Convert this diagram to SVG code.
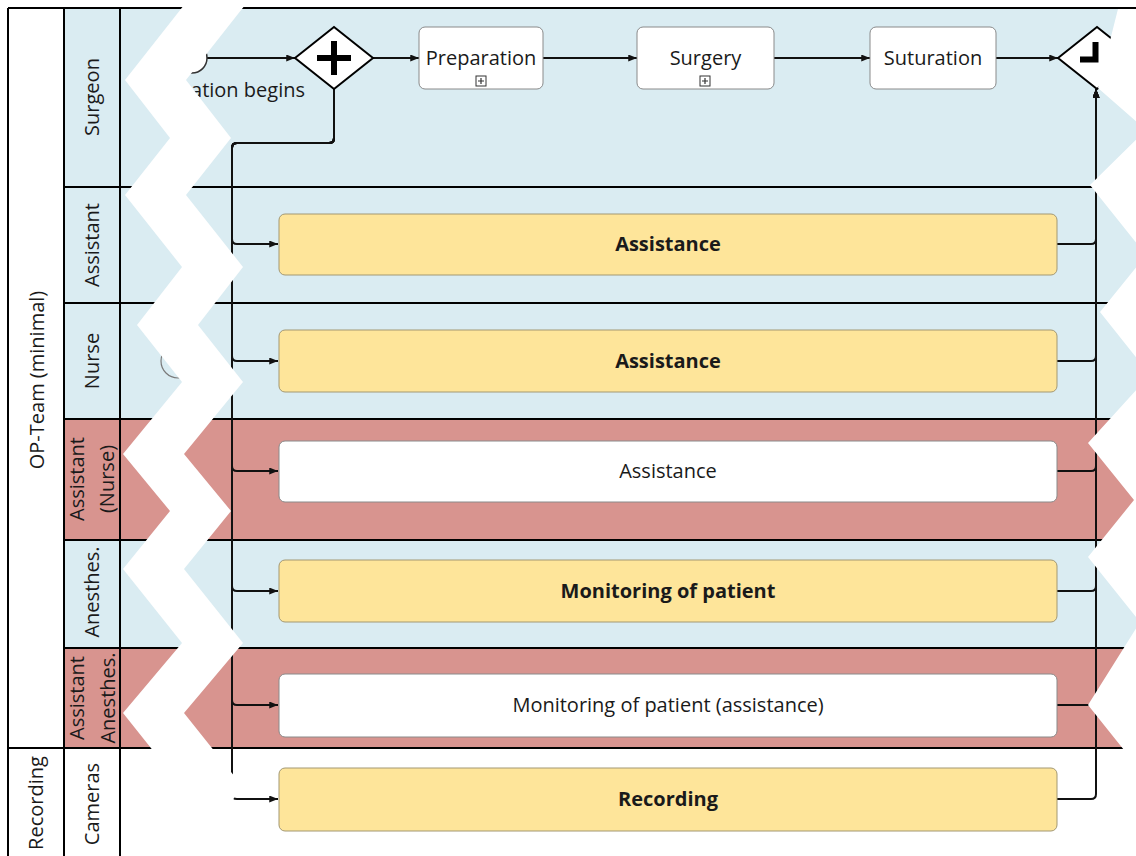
<svg xmlns="http://www.w3.org/2000/svg" width="1136" height="856" viewBox="0 0 1136 856">
  <style>
    text { font-family: "Open Sans", "DejaVu Sans", sans-serif; font-size: 20px; fill: #1a1a1a; }
    .b { font-weight: bold; }
    .mid { text-anchor: middle; }
    .lane-blue { fill: #daecf2; }
    .lane-red { fill: #d8948f; }
    .line { stroke: #000; stroke-width: 2; fill: none; }
    .flow { stroke: #111; stroke-width: 2; fill: none; }
    .task { fill: #fff; stroke: #8a8a8a; stroke-width: 1; }
    .task-y { fill: #fee59a; stroke: #a39873; stroke-width: 1; }
    .gw { fill: #fff; stroke: #000; stroke-width: 2; }
    .sym { fill: none; stroke: #000; stroke-width: 6; }
    .marker-box { fill: #fff; stroke: #333; stroke-width: 1; }
    .tear { fill: #fff; }
  </style>
  <defs>
    <marker id="arr" viewBox="0 0 10 8" refX="10" refY="4" markerWidth="9" markerHeight="7" markerUnits="userSpaceOnUse" orient="auto">
      <path d="M0,0 L10,4 L0,8 z" fill="#111"/>
    </marker>
  </defs>

  <!-- lane backgrounds -->
  <g id="lane-fills">
    <rect x="64" y="8" width="1072" height="411" class="lane-blue"/>
    <rect x="64" y="419" width="1072" height="121" class="lane-red"/>
    <rect x="64" y="540" width="1072" height="108" class="lane-blue"/>
    <rect x="64" y="648" width="1072" height="100" class="lane-red"/>
  </g>

  <!-- pool and lane borders -->
  <g id="borders" class="line">
    <path d="M8,8 V856 M64,8 V856 M120,8 V856"/>
    <path d="M8,8 H1136"/>
    <path d="M64,187 H1136 M64,303 H1136 M64,419 H1136 M64,540 H1136 M64,648 H1136"/>
    <path d="M8,748 H1136"/>
  </g>

  <!-- pool labels -->
  <g id="pool-op-team">
    <text class="mid" transform="translate(44,380) rotate(-90)">OP-Team (minimal)</text>
  </g>
  <g id="pool-recording">
    <text class="mid" transform="translate(43,803) rotate(-90)">Recording</text>
  </g>

  <!-- lane labels -->
  <g id="lane-surgeon"><text class="mid" transform="translate(99,97) rotate(-90)">Surgeon</text></g>
  <g id="lane-assistant"><text class="mid" transform="translate(99,245) rotate(-90)">Assistant</text></g>
  <g id="lane-nurse"><text class="mid" transform="translate(99,361) rotate(-90)">Nurse</text></g>
  <g id="lane-assistant-nurse">
    <text class="mid" transform="translate(84,479) rotate(-90)">Assistant</text>
    <text class="mid" transform="translate(114,479) rotate(-90)">(Nurse)</text>
  </g>
  <g id="lane-anesthes"><text class="mid" transform="translate(99,592) rotate(-90)">Anesthes.</text></g>
  <g id="lane-assistant-anesthes">
    <text class="mid" transform="translate(84,698) rotate(-90)">Assistant</text>
    <text class="mid" transform="translate(115,698) rotate(-90)">Anesthes.</text>
  </g>
  <g id="lane-cameras"><text class="mid" transform="translate(99,804) rotate(-90)">Cameras</text></g>

  <!-- sequence flows -->
  <g id="connectors" class="flow">
    <path d="M207,58 H295" marker-end="url(#arr)"/>
    <path d="M373,58 H419" marker-end="url(#arr)"/>
    <path d="M543,58 H637" marker-end="url(#arr)"/>
    <path d="M774,58 H870" marker-end="url(#arr)"/>
    <path d="M996,58 H1058" marker-end="url(#arr)"/>

    <path d="M334,89 V138 Q334,143 329,143 H237 Q232,143 232,148 V239 Q232,244 237,244 H278" marker-end="url(#arr)"/>
    <path d="M334,89 V138 Q334,143 329,143 H237 Q232,143 232,148 V356 Q232,361 237,361 H278" marker-end="url(#arr)"/>
    <path d="M334,89 V138 Q334,143 329,143 H237 Q232,143 232,148 V466 Q232,471 237,471 H278" marker-end="url(#arr)"/>
    <path d="M334,89 V138 Q334,143 329,143 H237 Q232,143 232,148 V586 Q232,591 237,591 H278" marker-end="url(#arr)"/>
    <path d="M334,89 V138 Q334,143 329,143 H237 Q232,143 232,148 V700 Q232,705 237,705 H278" marker-end="url(#arr)"/>
    <path d="M334,89 V138 Q334,143 329,143 H237 Q232,143 232,148 V794 Q232,799 237,799 H278" marker-end="url(#arr)"/>

    <path d="M1057,244 H1091 Q1096,244 1096,239 V89" marker-end="url(#arr)"/>
    <path d="M1057,361 H1091 Q1096,361 1096,356 V89" marker-end="url(#arr)"/>
    <path d="M1057,471 H1091 Q1096,471 1096,466 V89" marker-end="url(#arr)"/>
    <path d="M1057,591 H1091 Q1096,591 1096,586 V89" marker-end="url(#arr)"/>
    <path d="M1057,705 H1091 Q1096,705 1096,700 V89" marker-end="url(#arr)"/>
    <path d="M1057,799 H1091 Q1096,799 1096,794 V89" marker-end="url(#arr)"/>
  </g>

  <!-- events -->
  <g id="start-event">
    <circle cx="192" cy="58" r="15" fill="#fff" stroke="#333" stroke-width="1.5"/>
    <text x="305" y="97" style="text-anchor:end">ation begins</text>
  </g>
  <g id="nurse-event">
    <circle cx="178" cy="361" r="17" fill="none" stroke="#7a7a7a" stroke-width="1.2"/>
  </g>

  <!-- gateways -->
  <g id="gateway-split">
    <path d="M295,58 L334,27 L373,58 L334,89 Z" class="gw"/>
    <path d="M317,58 H351 M334,41 V75" class="sym"/>
  </g>
  <g id="gateway-join">
    <path d="M1058,58 L1097,27 L1136,58 L1097,89 Z" class="gw"/>
    <path d="M1080,59.5 H1095.5 V42" class="sym" stroke-width="5.5"/>
  </g>

  <!-- surgeon tasks -->
  <g id="task-preparation">
    <rect x="419" y="27" width="124" height="62" rx="6" class="task"/>
    <text x="481" y="65" class="mid">Preparation</text>
    <rect x="476" y="76" width="10" height="10" class="marker-box"/>
    <path d="M478,81 H484 M481,78 V84" stroke="#333" stroke-width="1.2"/>
  </g>
  <g id="task-surgery">
    <rect x="637" y="27" width="137" height="62" rx="6" class="task"/>
    <text x="705.5" y="65" class="mid">Surgery</text>
    <rect x="700" y="76" width="10" height="10" class="marker-box"/>
    <path d="M702,81 H708 M705,78 V84" stroke="#333" stroke-width="1.2"/>
  </g>
  <g id="task-suturation">
    <rect x="870" y="27" width="126" height="62" rx="6" class="task"/>
    <text x="933" y="65" class="mid">Suturation</text>
  </g>

  <!-- lane tasks -->
  <g id="task-assistance-assistant">
    <rect x="279" y="214" width="778" height="61" rx="6" class="task-y"/>
    <text x="668" y="251" class="mid b">Assistance</text>
  </g>
  <g id="task-assistance-nurse">
    <rect x="279" y="330" width="778" height="62" rx="6" class="task-y"/>
    <text x="668" y="368" class="mid b">Assistance</text>
  </g>
  <g id="task-assistance-assistant-nurse">
    <rect x="279" y="441" width="778" height="61" rx="6" class="task"/>
    <text x="668" y="478" class="mid">Assistance</text>
  </g>
  <g id="task-monitoring">
    <rect x="279" y="560" width="778" height="62" rx="6" class="task-y"/>
    <text x="668" y="598" class="mid b">Monitoring of patient</text>
  </g>
  <g id="task-monitoring-assistance">
    <rect x="279" y="674" width="778" height="63" rx="6" class="task"/>
    <text x="668" y="712" class="mid">Monitoring of patient (assistance)</text>
  </g>
  <g id="task-recording">
    <rect x="279" y="768" width="778" height="63" rx="6" class="task-y"/>
    <text x="668" y="806" class="mid b">Recording</text>
  </g>

  <!-- torn-paper cut bands -->
  <g id="tears">
    <polygon class="tear" points="188,0 125,80 170,138 125,195 182,267 137,325 182,382 123,454 170,511 123,569 182,643 123,713 182,787 123,860 184,860 243,787 184,713 243,643 184,569 231,511 184,454 243,382 198,325 243,267 186,195 231,138 186,80 249,0"/>
    <polygon class="tear" points="1118,9 1098,88 1146,130 1090,185 1146,255 1100,312 1150,375 1088,443 1134,500 1088,557 1140,622 1088,705 1140,770 1140,856 1200,856 1200,9"/>
  </g>
</svg>
